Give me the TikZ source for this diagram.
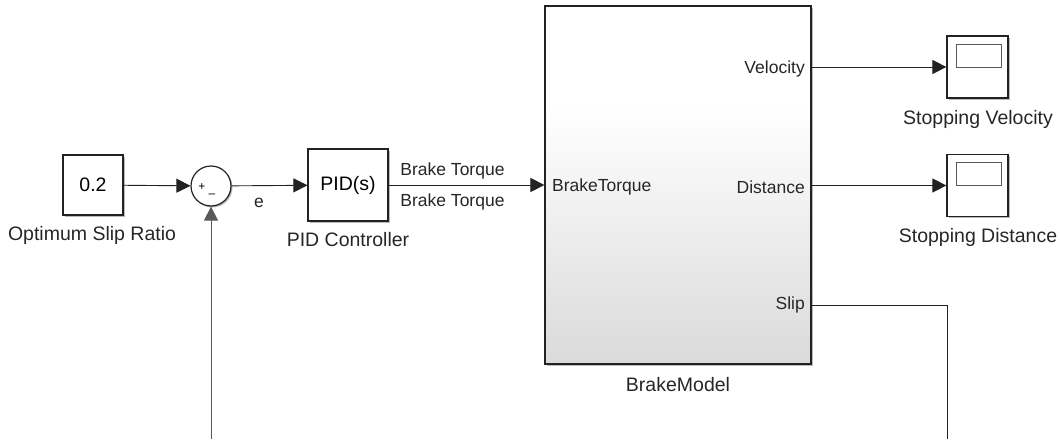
\documentclass[tikz,border=0pt]{standalone}
\usepackage{fontspec}
\setmainfont{Liberation Sans}
\usetikzlibrary{arrows.meta, shadows}

\definecolor{wiregray}{HTML}{222222}
\definecolor{bmgray}{HTML}{DADADA}

% white in the upper part, grey towards the bottom
\pgfdeclareverticalshading{brakeshade}{100bp}{color(0bp)=(bmgray); color(25bp)=(bmgray);
    color(61bp)=(white); color(100bp)=(white)}

\tikzset{
    block/.style={draw=wiregray, line width=1.2pt, fill=white, inner sep=0pt,
        drop shadow={shadow xshift=1.5pt, shadow yshift=-1.5pt, opacity=0.45, fill=black!60},
        font=\fontsize{19.5}{22}\selectfont},
    blocklabel/.style={font=\fontsize{19.5}{22}\selectfont, text=black!85},
    portlabel/.style={font=\fontsize{17.5}{20}\selectfont, text=black!85, inner sep=0pt},
    wire/.style={draw=wiregray, line width=0.9pt},
    sig/.style={wire, -{Triangle[length=14pt, width=14pt]}},
}

\begin{document}
\begin{tikzpicture}[x=1pt, y=-1pt]
    \useasboundingbox (0, 0) rectangle (1060, 439);

    % blocks
    \node [block, minimum width=60pt, minimum height=60pt] (ratio) at (93, 185) {0.2};
    \node [block, circle, minimum size=40pt] (sum) at (211, 186) {};
    \node [block, minimum width=80pt, minimum height=72pt] (pid) at (348, 185) {PID(s)};
    \node [block, shading=brakeshade, minimum width=266pt, minimum height=358pt] (brake) at (678, 185) {};
    \node [block, minimum width=61pt, minimum height=62pt] (vscope) at (977.5, 67) {};
    \node [block, minimum width=61pt, minimum height=62pt] (dscope) at (977.5, 185.5) {};

    \foreach \scope in {vscope, dscope} {
        \draw [black!65, line width=1pt] ([xshift=10pt, yshift=-9pt]\scope.north west)
            rectangle ([xshift=-7pt, yshift=-32pt]\scope.north east);
        }

    % signs of the sum
    \node [font=\fontsize{12}{12}\selectfont, inner sep=0pt] (plus) at (202, 187) {+};
    \node [font=\fontsize{12}{12}\selectfont, inner sep=0pt] (minus) at (212, 196) {–};

    % block names
    \node [blocklabel] (ratiolabel) at (92, 235) {Optimum Slip Ratio};
    \node [blocklabel] (pidlabel) at (348, 240) {PID Controller};
    \node [blocklabel] (brakelabel) at (678, 385) {BrakeModel};
    \node [blocklabel] (vlabel) at (978, 119) {Stopping Velocity};
    \node [blocklabel] (dlabel) at (978, 237) {Stopping Distance};

    % ports of the subsystem
    \node [portlabel, anchor=west] (torqueport) at (552, 187) {BrakeTorque};
    \node [portlabel, anchor=east] (velport) at (805, 69) {Velocity};
    \node [portlabel, anchor=east] (distport) at (805, 187) {Distance};
    \node [portlabel, anchor=east] (slipport) at (805, 305) {Slip};

    \coordinate (slipout) at (811, 305);
    \coordinate (fbright) at (947, 439);
    \coordinate (fbleft) at (211, 439);

    % signals
    \draw [sig] (ratio) -- (sum);
    \draw [sig] (sum) -- node [portlabel, pos=0.36, yshift=-17pt] {e} (pid);
    \draw [sig] (pid.east) -- node [portlabel, pos=0.41, yshift=14pt] {Brake Torque}
        node [portlabel, pos=0.41, yshift=-17pt] {Brake Torque} (pid.east -| brake.west);
    \draw [sig] (vscope.west -| brake.east) -- (vscope);
    \draw [sig] (dscope.west -| brake.east) -- (dscope);
    \draw [wire] (slipout) -| (fbright);
    \draw [sig, draw=black!65] (fbleft) -- (sum);
\end{tikzpicture}
\end{document}
